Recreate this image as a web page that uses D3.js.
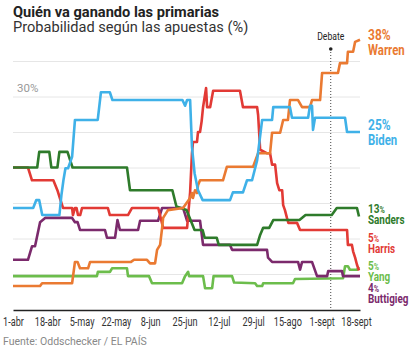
<!DOCTYPE html>
<html>
<head>
<meta charset="utf-8">
<script src="https://cdn.jsdelivr.net/npm/d3@7"></script>
<style>
  body { margin: 0; background: #fff; }
  svg { display: block; }
  svg text { font-family: Roboto, sans-serif; }
</style>
</head>
<body>
<div id="chart"></div>
<script>
// Day 0 = 1 April 2019
const startDate = new Date(2019, 3, 1);
const tickDays = [0, 17, 34, 51, 68, 85, 102, 119, 136, 153, 170];
const tickLabels = ['1-abr', '18-abr', '5-may', '22-may', '8-jun', '25-jun', '12-jul', '29-jul', '15-ago', '1-sept', '18-sept'];
const gridValues = [5, 10, 15, 20, 25, 30, 35];
const debateDay = 157.5;

// [day, %] pairs
const warren = [[0,3.3],[13.4,3.3],[14.4,3.7],[29.3,3.7],[30.7,6.7],[32,6.7],[33.2,5.8],[37.2,5.8],[38.2,6.7],[58.5,6.7],[60,7],[66.4,7],[67.9,6.5],[70.4,6.5],[71.4,8.4],[72.9,9.1],[73.9,11.5],[74.4,12.9],[76.8,14],[84.3,14.3],[86.3,15.1],[87.8,15.7],[88.7,16.4],[89.2,15.7],[90.2,16.8],[91.2,16.4],[91.7,17.5],[92.7,18.2],[104.1,18.2],[106,20.1],[119,20.1],[121.5,22],[127.4,22],[128.4,24.9],[132.4,24.9],[133.9,26.7],[136.3,26.7],[137.3,29.5],[141.3,29.5],[143.3,28.5],[147.2,28.5],[148.2,29.5],[152.2,29.5],[153.2,33.3],[161.1,33.3],[162.1,34.7],[165.6,34.7],[166,36.3],[168.6,36.3],[169.6,37.7],[172,38]];
const biden = [[0,14.3],[10,14.3],[11.5,15.4],[13,15.4],[14.5,13.3],[23,13.3],[24,16.1],[25,18.2],[26,19.9],[27.3,19.9],[29.3,21.5],[30.7,26.7],[42,26.7],[43.6,30.6],[48,30.6],[49.3,29.5],[84,29.5],[85.3,28.7],[86.3,29.5],[87.8,29.5],[88.7,22.9],[90,19.2],[91.7,16.8],[94,15.4],[107.6,15.4],[109,16.5],[114,16.5],[116,18.2],[118.5,18.2],[121,21],[123.5,26.7],[128.4,26.7],[129,28.5],[137.3,28.5],[138.3,27],[146.3,27],[147.2,28.7],[148.2,28.7],[148.7,25.3],[149.7,27],[164.6,27],[165.6,25],[172,25]];
const sanders = [[0,20],[12,20],[13,22.2],[18,22.2],[19,20],[22,20],[23,22.2],[27,22.2],[29.5,20],[56.5,20],[58,16.8],[79,16.8],[81,14.5],[86,14],[90,11.2],[94,11.2],[95,10.1],[101,10.1],[102,9.1],[121,9.1],[122.5,10.5],[124,11.5],[127,11.5],[129,12.6],[142,12.6],[145,13.3],[158,13.3],[160.5,14.3],[170.5,14.3],[171.5,13.1]];
const harris = [[0,20],[7.4,20],[9.4,18.2],[20,18.2],[22,16.8],[24,15],[24.8,14.3],[29.3,14.3],[29.7,13.3],[30.7,14.3],[31.5,14.3],[32.2,13.3],[33.3,13.3],[34.2,14.3],[47,14.3],[48,13.3],[57,13.3],[59,14.3],[72,14.3],[74.4,11.5],[86.3,11.5],[87.8,16.5],[88.7,22],[89.2,23.6],[91.2,23.6],[91.7,25],[92.7,25],[93.5,26.5],[94.2,28.5],[95.7,31.2],[96.2,28.5],[97.7,28.5],[99.2,30.8],[112.5,30.8],[114,28.5],[121,28.5],[121.5,27.4],[122.5,22.5],[126,22],[127.4,22],[128.4,20.4],[129.9,20.4],[130.9,17.8],[132,16.8],[133.4,16.8],[133.9,14.7],[134.8,14],[135.8,12.9],[136.5,12.2],[140.8,12.2],[142.3,11.2],[165.6,11.2],[166,9.1],[168,9.1],[168.6,8.2],[169.6,7.3],[170.5,6.3],[171.5,5.5]];
const yang = [[0,4.7],[41.6,4.7],[42.1,5.3],[48.1,5.3],[49.1,5.8],[56.5,5.8],[57,4.7],[67.4,4.7],[68.9,3.7],[83.8,3.7],[85.3,4.7],[86.8,5.3],[87.3,4.7],[94.2,4.7],[95.2,3],[98.7,3],[99.4,4.7],[108.6,4.7],[109.6,3.8],[120,3.7],[121,3.3],[123.5,3.3],[124,3.7],[138.8,3.7],[139.8,4.3],[163.6,4.4],[164.6,6.1],[166,6.1],[167,5.6],[170.5,5.6],[171.5,6]];
const buttigieg = [[0,7],[7.4,7],[9.4,8.9],[10.9,8.9],[13.4,12.3],[15.9,12.9],[29.3,12.9],[30.7,12.3],[32,12.3],[33.2,11.2],[45.6,11.2],[46.6,10.1],[50.6,10.1],[51.8,12.6],[53,11.2],[62,11.2],[63,12.5],[71.9,12.5],[73.9,14.3],[84.3,14.3],[86.3,12.5],[92.7,12.5],[94.2,9.1],[107.6,9.1],[108.6,8.4],[125.9,8.4],[126.4,7.3],[128.4,6.7],[141.3,6.7],[142.3,5.6],[143.3,6.7],[148.2,6.7],[150.7,4.7],[155.7,4.7],[156.2,5.4],[163.1,5.4],[163.6,4.7],[172,4.7]];

const names = ['Yang', 'Buttigieg', 'Harris', 'Sanders', 'Warren', 'Biden'];
const finalPct = { Warren: 38, Biden: 25, Sanders: 13, Harris: 5, Yang: 5, Buttigieg: 4 };
const seriesData = { Warren: warren, Biden: biden, Sanders: sanders, Harris: harris, Yang: yang, Buttigieg: buttigieg };

// styling
const colors = { Warren: '#ea7a32', Biden: '#3fb1e8', Sanders: '#2e7b2b', Harris: '#e23a35', Yang: '#6cbd4c', Buttigieg: '#7b2a6c' };
const labelY = { Warren: 40, Biden: 130, Sanders: 213, Harris: 242, Yang: 270, Buttigieg: 292 };
const bigLabel = { Warren: true, Biden: true };

const width = 414, height = 362;
const toDate = d => d3.timeHour.offset(startDate, Math.round(d * 24));

// squeeze text horizontally to mimic the condensed newspaper face
function condense(sel, factor) {
    sel.each(function () {
        const w = this.getComputedTextLength();
        d3.select(this)
            .attr('textLength', w * factor)
            .attr('lengthAdjust', 'spacingAndGlyphs');
    });
}

const svg = d3.select('#chart').append('svg')
    .attr('width', width)
    .attr('height', height);

const x = d3.scaleTime()
    .domain([toDate(0), toDate(172)])
    .range([13, 360]);

const y = d3.scaleLinear()
    .domain([0, 40])
    .range([309.5, 25.5]);

// Title
svg.append('text')
    .attr('x', 13).attr('y', 17)
    .style('font-weight', 700)
    .style('font-size', '14.6px')
    .style('fill', '#222')
    .text('Quién va ganando las primarias');

svg.append('text')
    .attr('x', 13).attr('y', 32)
    .style('font-size', '14.6px')
    .style('fill', '#333')
    .text('Probabilidad según las apuestas (%)');

// Grid
const grid = svg.append('g')
    .attr('transform', `translate(${x.range()[0]},0)`)
    .call(d3.axisLeft(y)
        .tickValues(gridValues)
        .tickSize(-(x.range()[1] - x.range()[0]))
        .tickFormat(''));
grid.select('.domain').remove();
grid.selectAll('.tick line')
    .attr('stroke', '#e6e6e6')
    .attr('stroke-width', 1);

svg.append('text')
    .attr('x', 17).attr('y', y(30) - 5)
    .style('font-size', '11.5px')
    .style('fill', '#999')
    .text('30%');

// X axis
const xAxis = svg.append('g')
    .attr('transform', `translate(0,${y(0) + 0.5})`)
    .call(d3.axisBottom(x)
        .tickValues(tickDays.map(toDate))
        .tickFormat((d, i) => tickLabels[i])
        .tickSize(0)
        .tickPadding(7));
xAxis.select('.domain')
    .attr('stroke', '#222')
    .attr('stroke-width', 1.5);
xAxis.selectAll('text')
    .attr('font-family', null)
    .style('font-family', 'Roboto, sans-serif')
    .style('font-size', '12px')
    .style('fill', '#333')
    .call(condense, 0.76);

// Debate marker
const dx = x(toDate(debateDay));
svg.append('line')
    .attr('x1', dx).attr('x2', dx)
    .attr('y1', 49).attr('y2', y(0))
    .attr('stroke', '#444')
    .attr('stroke-width', 1)
    .attr('stroke-dasharray', '1,2');
svg.append('circle')
    .attr('cx', dx).attr('cy', 49).attr('r', 1.8)
    .attr('fill', '#222');
svg.append('text')
    .attr('x', dx).attr('y', 40)
    .attr('text-anchor', 'middle')
    .style('font-size', '11px')
    .style('fill', '#222')
    .text('Debate')
    .call(condense, 0.78);

// Lines
const line = d3.line()
    .x(d => x(toDate(d[0])))
    .y(d => y(d[1]));

svg.append('g')
    .selectAll('path')
    .data(names)
    .join('path')
    .attr('d', n => line(seriesData[n]))
    .attr('fill', 'none')
    .attr('stroke', n => colors[n])
    .attr('stroke-width', 2.6)
    .attr('stroke-linejoin', 'round');

// End labels
const labels = svg.append('g')
    .selectAll('g')
    .data(names)
    .join('g')
    .style('font-weight', 700)
    .style('fill', n => colors[n]);

const pctText = labels.append('text')
    .attr('x', 368)
    .attr('y', n => labelY[n])
    .style('font-size', n => bigLabel[n] ? '15px' : '12.5px');
pctText.append('tspan').text(n => finalPct[n]);
pctText.append('tspan')
    .style('font-size', n => bigLabel[n] ? '15px' : '9px')
    .text('%');
pctText.call(condense, 0.8);

labels.append('text')
    .attr('x', 368)
    .attr('y', n => labelY[n] + (bigLabel[n] ? 15 : 11))
    .style('font-size', n => bigLabel[n] ? '15px' : '13px')
    .text(n => n)
    .call(condense, 0.76);

// Source
svg.append('text')
    .attr('x', 3).attr('y', 345)
    .style('font-size', '10.5px')
    .style('fill', '#888')
    .text('Fuente: Oddschecker / EL PAÍS');
</script>
</body>
</html>
